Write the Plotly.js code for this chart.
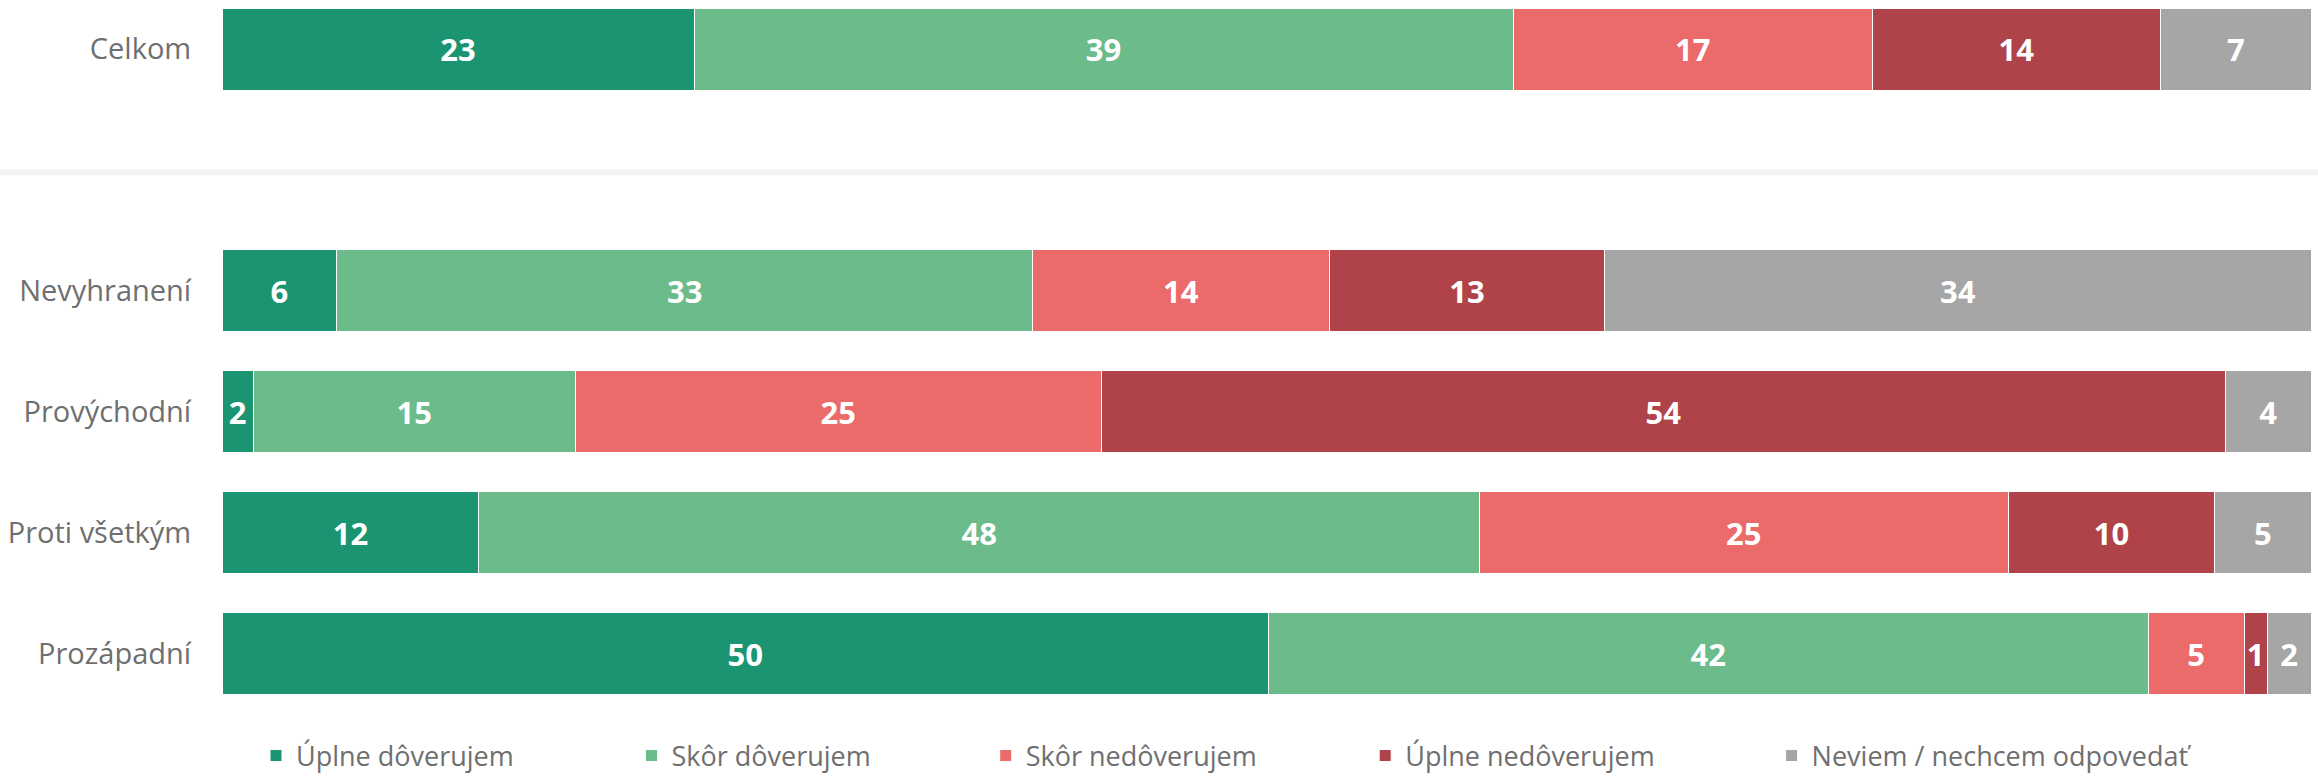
<!DOCTYPE html>
<html>
<head>
<meta charset="utf-8">
<script src="https://cdn.plot.ly/plotly-3.0.1.min.js"></script>
<style>
html,body{margin:0;padding:0;background:#ffffff;}
#chart{width:2318px;height:777px;}
</style>
</head>
<body>
<div id="chart"></div>
<script>
// Categories (the blank entry is the empty slot between "Celkom" and the groups)
const categories = ['Celkom', '\u00a0', 'Nevyhranení', 'Provýchodní', 'Proti všetkým', 'Prozápadní'];

// Series names
const seriesNames = ['Úplne dôverujem', 'Skôr dôverujem', 'Skôr nedôverujem', 'Úplne nedôverujem', 'Neviem / nechcem odpovedať'];

// Series values (percent)
const uplneDoverujem    = [22.6, null, 5.5, 1.5, 12.3, 50.1];
const skorDoverujem     = [39.2, null, 33.3, 15.4, 47.9, 42.1];
const skorNedoverujem   = [17.2, null, 14.2, 25.2, 25.3, 4.6];
const uplneNedoverujem  = [13.8, null, 13.2, 53.8, 9.9, 1.1];
const neviem            = [7.2, null, 33.8, 4.1, 4.6, 2.1];

const seriesValues = [uplneDoverujem, skorDoverujem, skorNedoverujem, uplneNedoverujem, neviem];
const seriesColors = ['#1b9571', '#6bbb8b', '#eb6a6a', '#b0434a', '#a6a6a6'];

// Layout constants (pixels)
const W = 2318, H = 777;
const M = {l: 222, r: 7, t: 0, b: 77, autoexpand: false};
const plotW = W - M.l - M.r;
const plotH = H - M.t - M.b;
const legendMarkerLeft = [270, 645.5, 999.7, 1379.2, 1785.6];
const legendCenterY = 756;
const legendKeys = ['legend', 'legend2', 'legend3', 'legend4', 'legend5'];

const traces = seriesNames.map((name, i) => ({
  type: 'bar',
  orientation: 'h',
  name: name,
  y: categories,
  x: seriesValues[i],
  legend: legendKeys[i],
  marker: {color: seriesColors[i], line: {color: '#ffffff', width: 1}},
  texttemplate: '%{x:.0f}',
  textposition: 'inside',
  insidetextanchor: 'middle',
  textangle: 0,
  constraintext: 'none',
  textfont: {family: 'Open Sans, sans-serif', size: 31, color: '#ffffff', weight: 700},
  hoverinfo: 'skip'
}));

const layout = {
  width: W,
  height: H,
  margin: M,
  paper_bgcolor: '#ffffff',
  plot_bgcolor: '#ffffff',
  barmode: 'stack',
  bargap: 0.322,
  showlegend: true,
  xaxis: {range: [0, 100], visible: false, fixedrange: true},
  yaxis: {
    type: 'category',
    categoryorder: 'array',
    categoryarray: categories,
    range: [5.384, -0.406],
    automargin: false,
    ticks: 'outside',
    ticklen: 24,
    tickcolor: 'rgba(0,0,0,0)',
    tickfont: {family: 'Open Sans, sans-serif', size: 29, color: '#6f6f6f'},
    showgrid: false,
    zeroline: false,
    showline: false,
    fixedrange: true
  },
  shapes: [{
    type: 'line',
    xref: 'paper', yref: 'paper',
    x0: -M.l / plotW, x1: (W - M.l) / plotW,
    y0: (plotH - 172.5) / plotH, y1: (plotH - 172.5) / plotH,
    line: {color: '#f2f2f2', width: 6},
    layer: 'below'
  }]
};

legendKeys.forEach((k, i) => {
  layout[k] = {
    orientation: 'h',
    x: (legendMarkerLeft[i] - 14 - M.l) / plotW,
    xanchor: 'left',
    y: (plotH - legendCenterY) / plotH,
    yanchor: 'middle',
    bgcolor: 'rgba(0,0,0,0)',
    borderwidth: 0,
    font: {family: 'Open Sans, sans-serif', size: 27, color: '#6f6f6f'},
    itemclick: false,
    itemdoubleclick: false
  };
});

Plotly.newPlot('chart', traces, layout, {displayModeBar: false, staticPlot: true});
</script>
</body>
</html>
